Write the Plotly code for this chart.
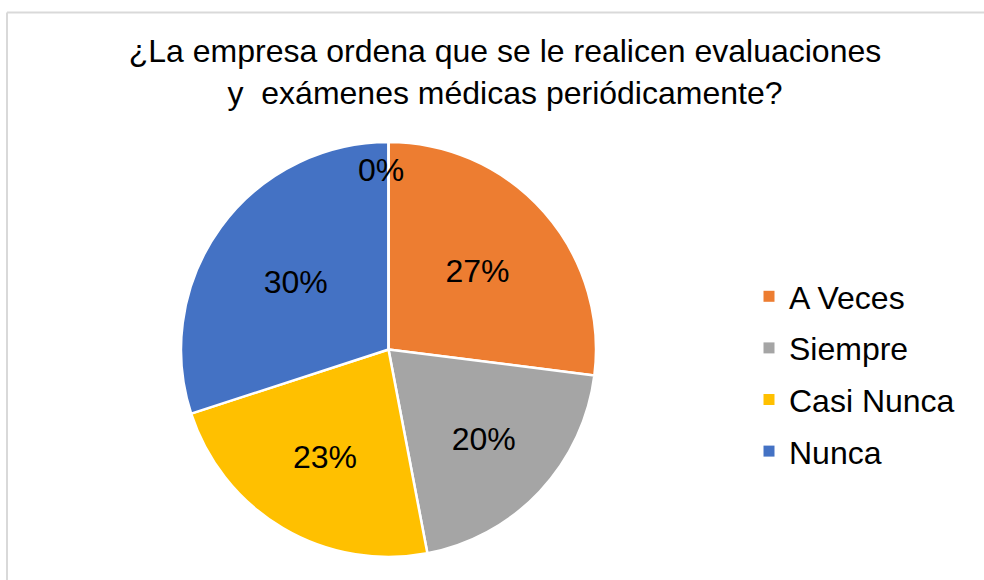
import plotly.graph_objects as go

categories = ["A Veces", "Siempre", "Casi Nunca", "Nunca", "Casi Siempre"]
values = [27, 20, 23, 30, 0]
colors = ["#ED7D31", "#A5A5A5", "#FFC000", "#4472C4", "#5B9BD5"]
title_text = "¿La empresa ordena que se le realicen evaluaciones<br>y  exámenes médicas periódicamente?"

W, H = 984, 580
FONT = "Liberation Sans, Arial, sans-serif"
FS = 32

# pie box in pixels
PX0, PX1, PY0, PY1 = 181, 596, 142, 557

fig = go.Figure()
fig.add_trace(go.Pie(
    labels=categories,
    values=values,
    sort=False,
    direction="clockwise",
    rotation=0,
    marker=dict(colors=colors, line=dict(color="white", width=2.5)),
    texttemplate="%{percent:.0%}",
    textposition="inside",
    insidetextorientation="horizontal",
    textfont=dict(family=FONT, size=FS, color="black"),
    showlegend=False,
    hoverinfo="label+percent",
    domain=dict(x=[PX0 / W, PX1 / W], y=[1 - PY1 / H, 1 - PY0 / H]),
))

for name, val, col in zip(categories, values, colors):
    if val > 0:
        fig.add_trace(go.Scatter(
            x=[None], y=[None], mode="markers",
            marker=dict(symbol="square", size=11, color=col),
            name=name, legendgroup=name, showlegend=True,
        ))

# label for the zero-valued slice (plotly does not draw text for empty slices)
total = sum(values)
annotations = []
for name, val in zip(categories, values):
    if val == 0:
        annotations.append(dict(
            text=f"{round(100 * val / total)}%", showarrow=False,
            xref="paper", yref="paper",
            x=((PX0 + PX1) / 2 - 8) / W, y=1 - (PY0 + 28) / H,
            xanchor="center", yanchor="middle",
            font=dict(family=FONT, size=FS, color="black"),
        ))

fig.update_layout(
    width=W, height=H,
    margin=dict(l=0, r=0, t=0, b=0),
    paper_bgcolor="white",
    plot_bgcolor="white",
    title=dict(text=title_text, x=505 / W, xanchor="center", y=1 - 62 / H, yanchor="top",
               yref="container", font=dict(family=FONT, size=FS, color="black")),
    xaxis=dict(visible=False),
    yaxis=dict(visible=False),
    legend=dict(x=749 / W, xanchor="left", y=1 - 374 / H, yanchor="middle",
                font=dict(family=FONT, size=FS, color="black"),
                tracegroupgap=7, traceorder="grouped", itemclick=False),
    annotations=annotations,
    shapes=[
        dict(type="line", xref="paper", yref="paper", x0=7 / W, x1=1.01, y0=1 - 12.5 / H, y1=1 - 12.5 / H,
             line=dict(color="#D9D9D9", width=2)),
        dict(type="line", xref="paper", yref="paper", x0=7 / W, x1=7 / W, y0=1 - 12.5 / H, y1=-0.01,
             line=dict(color="#D9D9D9", width=2)),
    ],
)

fig.write_html("out.html", config={"displayModeBar": False},
               post_script="document.body.style.margin='0';")
